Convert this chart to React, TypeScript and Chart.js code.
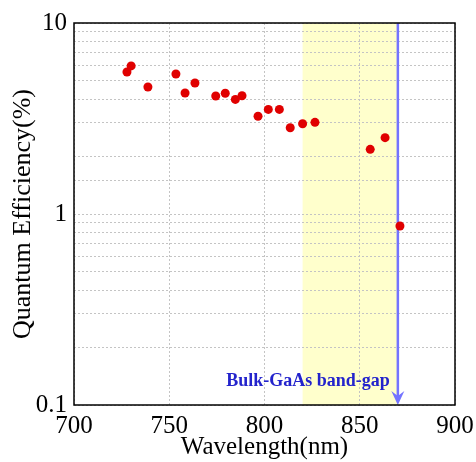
import React, { useEffect, useRef } from "react";
import { Chart, registerables } from "chart.js";

Chart.register(...registerables);

const wavelengths = [727.8, 730, 738.8, 753.5, 758.3, 763.5, 774.4, 779.4, 784.7, 788.2, 796.6, 802, 807.8, 813.5, 820, 826.5, 855.5, 863.3, 871.1];
const efficiency = [5.54, 5.96, 4.62, 5.41, 4.3, 4.85, 4.15, 4.29, 3.98, 4.16, 3.25, 3.53, 3.53, 2.83, 2.97, 3.02, 2.18, 2.51, 0.865];

const bandStart = 820;
const bandEnd = 870;
const bandGap = 870;
const bandGapLabel = "Bulk-GaAs band-gap";
const xTitle = "Wavelength(nm)";
const yTitle = "Quantum Efficiency(%)";
const yLabelValues = [0.1, 1, 10];

const SERIF = "'Liberation Serif', 'Times New Roman', serif";

const decorPlugin = {
  id: "decor",
  beforeDraw(chart: any) {
    const { ctx, chartArea, scales } = chart;
    const x = scales.x;
    const x1 = x.getPixelForValue(bandStart);
    const x2 = x.getPixelForValue(bandEnd);
    ctx.save();
    ctx.fillStyle = "#ffffcc";
    ctx.fillRect(x1, chartArea.top, x2 - x1, chartArea.bottom - chartArea.top);
    ctx.restore();
  },
  beforeDatasetsDraw(chart: any) {
    const { ctx, chartArea, scales } = chart;
    const bx = scales.x.getPixelForValue(bandGap);
    ctx.save();
    ctx.strokeStyle = "#7474ff";
    ctx.lineWidth = 2.5;
    ctx.beginPath();
    ctx.moveTo(bx, chartArea.top);
    ctx.lineTo(bx, chartArea.bottom - 8);
    ctx.stroke();
    ctx.fillStyle = "#7474ff";
    ctx.beginPath();
    ctx.moveTo(bx - 6.5, chartArea.bottom - 14);
    ctx.lineTo(bx, chartArea.bottom - 9);
    ctx.lineTo(bx + 6.5, chartArea.bottom - 14);
    ctx.lineTo(bx, chartArea.bottom);
    ctx.closePath();
    ctx.fill();
    ctx.fillStyle = "#2323cc";
    ctx.font = "bold 18px " + SERIF;
    ctx.textAlign = "right";
    ctx.textBaseline = "alphabetic";
    ctx.fillText(bandGapLabel, bx - 8, chartArea.bottom - 19);
    ctx.restore();
  },
  afterDraw(chart: any) {
    const { ctx, chartArea } = chart;
    ctx.save();
    ctx.strokeStyle = "#000";
    ctx.lineWidth = 1.5;
    ctx.strokeRect(chartArea.left, chartArea.top, chartArea.right - chartArea.left, chartArea.bottom - chartArea.top);
    ctx.translate(23, (chartArea.top + chartArea.bottom) / 2);
    ctx.rotate(-Math.PI / 2);
    ctx.fillStyle = "#000";
    ctx.font = "26px " + SERIF;
    ctx.textAlign = "center";
    ctx.textBaseline = "middle";
    ctx.fillText(yTitle, 0, 0);
    ctx.restore();
  },
};

export default function App() {
  const ref = useRef<HTMLCanvasElement>(null);
  useEffect(() => {
    if (!ref.current) return;
    const chart = new Chart(ref.current, {
      type: "scatter",
      data: {
        datasets: [
          {
            data: wavelengths.map((w, i) => ({ x: w, y: efficiency[i] })),
            backgroundColor: "#e00000",
            borderWidth: 0,
            pointRadius: 4.5,
          },
        ],
      },
      options: {
        animation: false,
        responsive: true,
        maintainAspectRatio: false,
        layout: { padding: { top: 23, right: 21, left: 0, bottom: 0 } },
        plugins: { legend: { display: false }, tooltip: { enabled: false } },
        scales: {
          x: {
            type: "linear",
            min: 700,
            max: 900,
            afterFit: (s: any) => {
              s.height = 57;
              s.paddingRight = 0;
              s.paddingLeft = 0;
            },
            ticks: {
              stepSize: 50,
              color: "#000",
              font: { family: SERIF, size: 25 },
              padding: 6,
              maxRotation: 0,
            },
            grid: { color: "#c4c4c4", lineWidth: 1, drawTicks: false },
            border: { display: false, dash: [2, 2] },
            title: {
              display: true,
              text: xTitle,
              color: "#000",
              font: { family: SERIF, size: 25, lineHeight: 1.2 },
              padding: { top: 0, bottom: 0 },
            },
          },
          y: {
            type: "logarithmic",
            min: 0.1,
            max: 10,
            afterFit: (s: any) => {
              s.width = 74;
              s.paddingTop = 0;
              s.paddingBottom = 0;
            },
            ticks: {
              color: "#000",
              font: { family: SERIF, size: 25 },
              padding: 7,
              autoSkip: false,
              callback: (v: any) => {
                const n = Number(v);
                const hit = yLabelValues.find((t) => Math.abs(t - n) / t < 1e-6);
                return hit !== undefined ? String(hit) : "";
              },
            },
            grid: { color: "#c4c4c4", lineWidth: 1, drawTicks: false },
            border: { display: false, dash: [2, 2] },
          },
        },
      },
      plugins: [decorPlugin],
    });
    return () => chart.destroy();
  }, []);
  return (
    <div style={{ position: "fixed", left: 0, top: 0, width: 476, height: 462, background: "#fff" }}>
      <canvas ref={ref} />
    </div>
  );
}
